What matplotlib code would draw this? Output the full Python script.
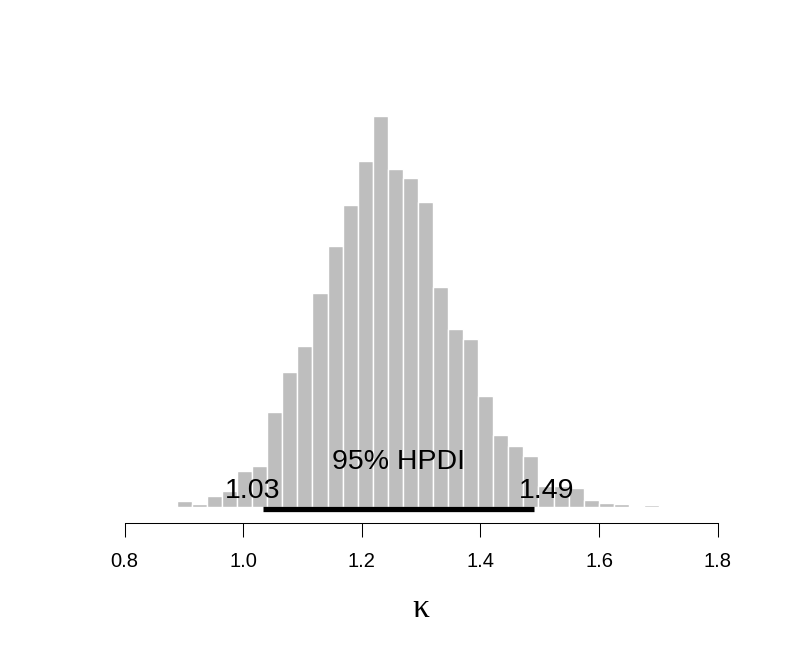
#Posterior histogram of kappa with 95% HPDI bar

import matplotlib
matplotlib.use("Agg")
import matplotlib.pyplot as plt
import numpy as np

plt.rcParams['font.family'] = ['Liberation Sans', 'DejaVu Sans']

# histogram (break range, bar heights)
break_lo, break_hi = 0.888, 1.701
counts = [6, 3, 11, 16, 36, 41, 95, 135, 161, 214, 261, 302, 346, 391, 338, 329,
          305, 220, 178, 168, 111, 72, 61, 51, 21, 21, 19, 7, 4, 3, 0, 2]
edges = np.linspace(break_lo, break_hi, len(counts) + 1)

hpdi_lo, hpdi_hi = 1.034, 1.49
hpdi_text = "95% HPDI"
lo_text, hi_text = "1.03", "1.49"
xticks = [0.8, 1.0, 1.2, 1.4, 1.6, 1.8]

fig = plt.figure(figsize=(7.93, 6.5), dpi=100)
ax = fig.add_axes([124.7/793, 143/650, 593/793, 407/650])

ax.bar(edges[:-1], counts, width=np.diff(edges), align='edge',
       color='#BEBEBE', edgecolor='white', linewidth=1.0)

# hpdi line under the bars
ax.plot([hpdi_lo, hpdi_hi], [-1.5, -1.5], color='black', lw=3.8,
        solid_capstyle='butt', clip_on=False)
ax.text(hpdi_lo - 0.019, 9, lo_text, ha='center', va='baseline', fontsize=20.5)
ax.text(hpdi_hi + 0.021, 9, hi_text, ha='center', va='baseline', fontsize=20.5)
ax.text((hpdi_lo + hpdi_hi)/2, 38, hpdi_text, ha='center', va='baseline', fontsize=20.5)

ax.set_xlim(0.8, 1.8)
ax.set_ylim(0, 407)
for s in ['top', 'right', 'left']:
    ax.spines[s].set_visible(False)
ax.spines['bottom'].set_position(('outward', 11.5))
ax.spines['bottom'].set_bounds(0.8, 1.8)
ax.spines['bottom'].set_linewidth(0.75)
ax.set_yticks([])
ax.set_xticks(xticks)
ax.set_xticklabels(["%.1f" % t for t in xticks])
ax.tick_params(axis='x', length=9.9, width=0.75, pad=11, labelsize=14.5)

ax.set_xlabel("κ", family=['Liberation Serif', 'DejaVu Serif'], fontsize=24, labelpad=16.5)

plt.savefig("out.png", dpi=100)
